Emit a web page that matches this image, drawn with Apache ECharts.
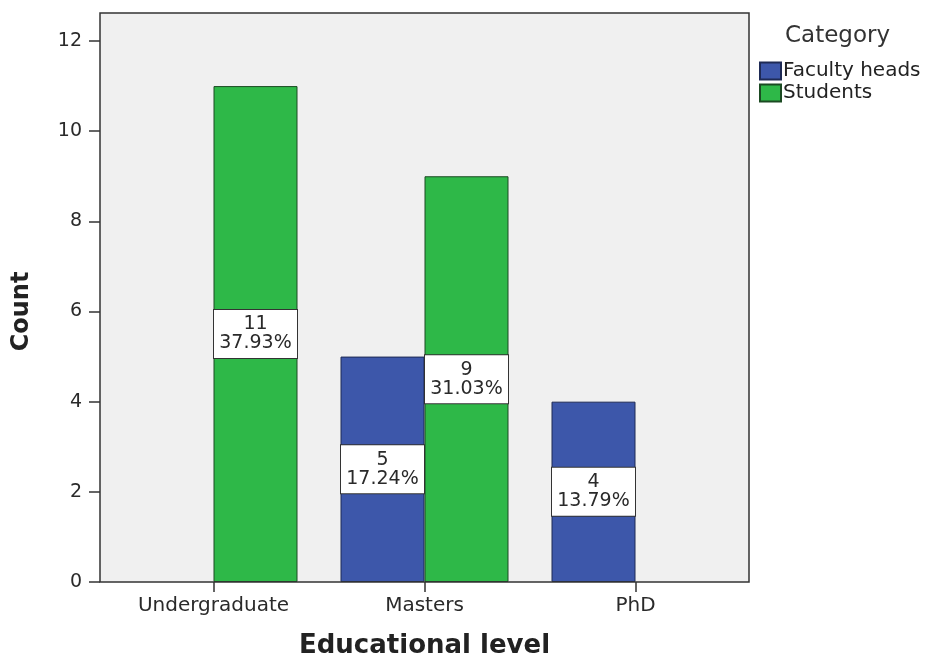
<!DOCTYPE html>
<html>
<head>
<meta charset="utf-8">
<script src="https://cdn.jsdelivr.net/npm/echarts@6/dist/echarts.min.js"></script>
<style>
  html, body { margin: 0; padding: 0; background: #fff; }
  #chart { width: 926px; height: 660px; }
</style>
</head>
<body>
<div id="chart"></div>
<script>
// data
const levels = ["Undergraduate", "Masters", "PhD"];
const facultyHeads = [null, 5, 4];
const students = [11, 9, null];
const facultyPct = [null, "17.24%", "13.79%"];
const studentPct = ["37.93%", "31.03%", null];
const yTicks = [0, 2, 4, 6, 8, 10, 12];

const blue = "#3d57aa";
const green = "#2eb848";
const fontFam = "'DejaVu Sans', Verdana, sans-serif";

const chart = echarts.init(document.getElementById("chart"));

function labelFor(pcts) {
  return {
    show: true,
    position: "inside",
    formatter: (p) => p.value + "\n" + pcts[p.dataIndex],
    backgroundColor: "#fff",
    borderColor: "#333",
    borderWidth: 1,
    width: 83,
    align: "center",
    padding: [5, 0, 5, 0],
    lineHeight: 19,
    fontSize: 19,
    color: "#2a2a2a",
    fontFamily: fontFam,
  };
}

chart.setOption({
  animation: false,
  backgroundColor: "#fff",
  textStyle: { fontFamily: fontFam },
  grid: { left: 108, right: 185, top: 41, bottom: 78, outerBoundsMode: "none" },
  graphic: [
    {
      // plot background
      type: "rect",
      z: -10,
      shape: { x: 100, y: 13, width: 649, height: 569 },
      style: { fill: "#f0f0f0" },
    },
    {
      // plot frame
      type: "rect",
      z: 100,
      shape: { x: 100, y: 13, width: 649, height: 569 },
      style: { fill: "none", stroke: "#333", lineWidth: 1.5 },
    },
    {
      type: "text",
      left: 785,
      top: 25,
      style: { text: "Category", fontSize: 23, fill: "#333", fontFamily: fontFam },
    },
  ],
  legend: {
    orient: "vertical",
    left: 754,
    top: 56,
    itemWidth: 21,
    itemHeight: 17,
    itemGap: 2,
    icon: "rect",
    textStyle: { fontSize: 20, color: "#222", padding: [0, 0, 0, -3] },
    data: ["Faculty heads", "Students"],
  },
  xAxis: {
    type: "category",
    data: levels,
    name: "Educational level",
    nameLocation: "middle",
    nameGap: 51,
    nameTextStyle: { fontSize: 26, fontWeight: "bold", color: "#222" },
    axisLine: { show: false },
    axisTick: { show: true, alignWithLabel: true, length: 10, lineStyle: { color: "#333", width: 1.5 } },
    axisLabel: { fontSize: 20, color: "#2a2a2a", margin: 14 },
  },
  yAxis: {
    type: "value",
    min: 0,
    max: 12,
    interval: 2,
    offset: 8,
    name: "Count",
    nameLocation: "middle",
    nameRotate: 90,
    nameGap: 66,
    nameTextStyle: { fontSize: 24, fontWeight: "bold", color: "#222" },
    axisLine: { show: false },
    axisTick: { show: true, length: 11, lineStyle: { color: "#333", width: 1.5 }, customValues: yTicks },
    axisLabel: { fontSize: 19, color: "#2a2a2a", margin: 18, customValues: yTicks },
    splitLine: { show: false },
  },
  series: [
    {
      name: "Faculty heads",
      type: "bar",
      data: facultyHeads,
      barWidth: 84,
      barGap: "0%",
      itemStyle: { color: blue, borderColor: "#1e2a55", borderWidth: 1 },
      label: labelFor(facultyPct),
    },
    {
      name: "Students",
      type: "bar",
      data: students,
      barWidth: 84,
      barGap: "0%",
      itemStyle: { color: green, borderColor: "#1b4a22", borderWidth: 1 },
      label: labelFor(studentPct),
    },
  ],
});
</script>
</body>
</html>
